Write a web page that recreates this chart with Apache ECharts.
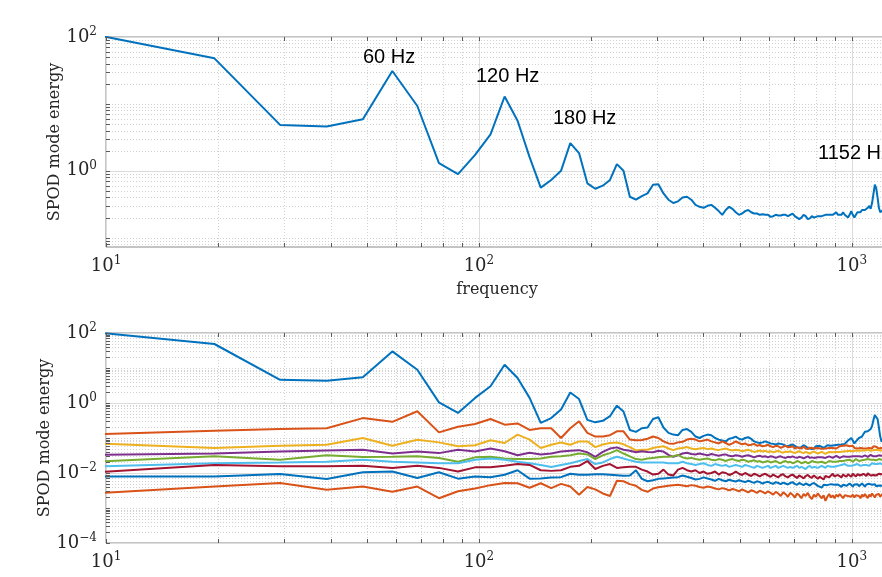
<!DOCTYPE html>
<html>
<head>
<meta charset="utf-8">
<script src="https://cdn.jsdelivr.net/npm/echarts@6/dist/echarts.min.js"></script>
<style>
    html, body { margin: 0; padding: 0; background: #fff; }
    #chart { width: 882px; height: 577px; }
</style>
</head>
<body>
<div id="chart"></div>
<script>
// frequency bins (Hz), df = 9.765625
const frequency = [
    9.77, 19.53, 29.30, 39.06, 48.83, 58.59, 68.36, 78.13, 87.89, 97.66,
    107.42, 117.19, 126.95, 136.72, 146.48, 156.25, 166.02, 175.78, 185.55, 195.31,
    205.08, 214.84, 224.61, 234.38, 244.14, 253.91, 263.67, 273.44, 283.20, 292.97,
    302.73, 312.50, 322.27, 332.03, 341.80, 351.56, 361.33, 371.09, 380.86, 390.63,
    400.39, 410.16, 419.92, 429.69, 439.45, 449.22, 458.98, 468.75, 478.52, 488.28,
    498.05, 507.81, 517.58, 527.34, 537.11, 546.88, 556.64, 566.41, 576.17, 585.94,
    595.70, 605.47, 615.23, 625.00, 634.77, 644.53, 654.30, 664.06, 673.83, 683.59,
    693.36, 703.13, 712.89, 722.66, 732.42, 742.19, 751.95, 761.72, 771.48, 781.25,
    791.02, 800.78, 810.55, 820.31, 830.08, 839.84, 849.61, 859.38, 869.14, 878.91,
    888.67, 898.44, 908.20, 917.97, 927.73, 937.50, 947.27, 957.03, 966.80, 976.56,
    986.33, 996.09, 1005.86, 1015.63, 1025.39, 1035.16, 1044.92, 1054.69, 1064.45, 1074.22,
    1083.98, 1093.75, 1103.52, 1113.28, 1123.05, 1132.81, 1142.58, 1152.34, 1162.11, 1171.88,
    1181.64, 1191.41, 1201.17, 1210.94, 1220.70
];

// top panel: leading mode only
const topMode1 = [
    103, 48, 4.86, 4.58, 5.9, 31, 9.3, 1.3, 0.89, 1.73,
    3.5, 12.9, 5.6, 1.6, 0.56, 0.73, 1.0, 2.6, 1.84, 0.65,
    0.54, 0.6, 0.73, 1.26, 1.0, 0.41, 0.37, 0.42, 0.46, 0.62,
    0.63, 0.46, 0.37, 0.33, 0.35, 0.40, 0.41, 0.37, 0.31, 0.29,
    0.28, 0.30, 0.31, 0.28, 0.25, 0.22, 0.26, 0.29, 0.27, 0.24,
    0.22, 0.23, 0.25, 0.26, 0.24, 0.23, 0.23, 0.22, 0.225, 0.22,
    0.22, 0.205, 0.21, 0.22, 0.215, 0.215, 0.22, 0.22, 0.21, 0.22,
    0.23, 0.21, 0.20, 0.19, 0.20, 0.22, 0.21, 0.19, 0.195, 0.21,
    0.20, 0.19, 0.21, 0.22, 0.21, 0.20, 0.22, 0.21, 0.22, 0.21,
    0.22, 0.23, 0.24, 0.22, 0.21, 0.22, 0.24, 0.22, 0.21, 0.20,
    0.22, 0.25, 0.22, 0.20, 0.22, 0.24, 0.25, 0.24, 0.26, 0.27,
    0.26, 0.25, 0.28, 0.30, 0.27, 0.33, 0.45, 0.62, 0.55, 0.40,
    0.28, 0.24, 0.25, 0.26, 0.25
];

// bottom panel: modes 1..9
const mode1 = [
    100, 48.5, 4.6, 4.3, 5.4, 29.8, 8.9, 1.04, 0.52, 1.4,
    3.0, 12.4, 5.2, 1.4, 0.27, 0.37, 0.65, 2.0, 1.3, 0.33,
    0.28, 0.31, 0.42, 0.84, 0.57, 0.17, 0.15, 0.19, 0.20, 0.35,
    0.39, 0.20, 0.14, 0.125, 0.12, 0.17, 0.18, 0.15, 0.11, 0.10,
    0.115, 0.125, 0.12, 0.10, 0.09, 0.085, 0.08, 0.095, 0.10, 0.11,
    0.095, 0.09, 0.10, 0.105, 0.095, 0.08, 0.075, 0.072, 0.075, 0.08,
    0.075, 0.07, 0.068, 0.065, 0.07, 0.068, 0.065, 0.06, 0.058, 0.062,
    0.065, 0.06, 0.055, 0.052, 0.055, 0.062, 0.058, 0.052, 0.05, 0.048,
    0.05, 0.058, 0.065, 0.06, 0.055, 0.052, 0.056, 0.062, 0.065, 0.06,
    0.058, 0.062, 0.068, 0.064, 0.06, 0.065, 0.07, 0.068, 0.075, 0.085,
    0.09, 0.1, 0.085, 0.07, 0.08, 0.09, 0.1, 0.095, 0.11, 0.13,
    0.15, 0.14, 0.155, 0.17, 0.18, 0.22, 0.33, 0.45, 0.42, 0.35,
    0.2, 0.11, 0.08, 0.09, 0.085
];
const mode2 = [
    0.13, 0.16, 0.18, 0.19, 0.37, 0.29, 0.58, 0.145, 0.21, 0.25,
    0.35, 0.24, 0.26, 0.17, 0.19, 0.19, 0.10, 0.19, 0.30, 0.14,
    0.11, 0.11, 0.12, 0.155, 0.155, 0.09, 0.086, 0.088, 0.095, 0.11,
    0.10, 0.08, 0.07, 0.068, 0.075, 0.078, 0.09, 0.095, 0.09, 0.08,
    0.085, 0.09, 0.08, 0.075, 0.07, 0.08, 0.072, 0.064, 0.07, 0.08,
    0.072, 0.066, 0.07, 0.062, 0.064, 0.068, 0.06, 0.063, 0.058, 0.06,
    0.064, 0.058, 0.055, 0.06, 0.058, 0.052, 0.056, 0.06, 0.054, 0.055,
    0.058, 0.05, 0.054, 0.052, 0.05, 0.056, 0.05, 0.048, 0.053, 0.052,
    0.05, 0.046, 0.052, 0.048, 0.049, 0.053, 0.05, 0.047, 0.052, 0.055,
    0.052, 0.056, 0.05, 0.054, 0.058, 0.055, 0.06, 0.057, 0.062, 0.063,
    0.058, 0.055, 0.06, 0.052, 0.055, 0.05, 0.048, 0.052, 0.046, 0.05,
    0.054, 0.05, 0.056, 0.052, 0.055, 0.05, 0.058, 0.052, 0.056, 0.052,
    0.05, 0.055, 0.052, 0.054, 0.05
];
const mode3 = [
    0.069, 0.052, 0.060, 0.064, 0.10, 0.060, 0.089, 0.075, 0.058, 0.062,
    0.086, 0.072, 0.125, 0.09, 0.052, 0.064, 0.074, 0.064, 0.08, 0.08,
    0.055, 0.065, 0.072, 0.074, 0.066, 0.055, 0.044, 0.046, 0.046, 0.052,
    0.055, 0.058, 0.05, 0.045, 0.05, 0.052, 0.055, 0.05, 0.048, 0.05,
    0.052, 0.048, 0.05, 0.047, 0.045, 0.048, 0.05, 0.046, 0.044, 0.046,
    0.045, 0.042, 0.044, 0.046, 0.043, 0.04, 0.042, 0.044, 0.041, 0.043,
    0.04, 0.042, 0.039, 0.041, 0.043, 0.04, 0.038, 0.041, 0.04, 0.042,
    0.039, 0.037, 0.04, 0.042, 0.039, 0.037, 0.04, 0.038, 0.036, 0.039,
    0.041, 0.038, 0.036, 0.039, 0.04, 0.037, 0.035, 0.038, 0.04, 0.042,
    0.039, 0.037, 0.04, 0.043, 0.04, 0.038, 0.041, 0.044, 0.042, 0.04,
    0.043, 0.045, 0.042, 0.04, 0.044, 0.046, 0.043, 0.041, 0.044, 0.047,
    0.044, 0.042, 0.046, 0.044, 0.043, 0.047, 0.045, 0.048, 0.046, 0.044,
    0.045, 0.047, 0.044, 0.046, 0.045
];
const mode4 = [
    0.033, 0.036, 0.041, 0.044, 0.046, 0.036, 0.041, 0.037, 0.046, 0.041,
    0.05, 0.042, 0.032, 0.038, 0.034, 0.036, 0.041, 0.043, 0.045, 0.039,
    0.029, 0.04, 0.05, 0.054, 0.046, 0.043, 0.039, 0.042, 0.04, 0.039,
    0.043, 0.041, 0.033, 0.029, 0.032, 0.036, 0.038, 0.035, 0.034, 0.036,
    0.034, 0.032, 0.035, 0.033, 0.031, 0.033, 0.034, 0.031, 0.03, 0.032,
    0.031, 0.029, 0.031, 0.032, 0.03, 0.028, 0.03, 0.031, 0.029, 0.03,
    0.028, 0.03, 0.029, 0.027, 0.029, 0.03, 0.028, 0.027, 0.029, 0.028,
    0.03, 0.028, 0.027, 0.029, 0.028, 0.026, 0.028, 0.03, 0.027, 0.028,
    0.027, 0.029, 0.028, 0.026, 0.028, 0.029, 0.027, 0.028, 0.03, 0.028,
    0.027, 0.029, 0.031, 0.028, 0.027, 0.029, 0.03, 0.028, 0.029, 0.031,
    0.029, 0.028, 0.03, 0.032, 0.03, 0.028, 0.03, 0.031, 0.029, 0.03,
    0.032, 0.03, 0.029, 0.031, 0.033, 0.031, 0.03, 0.032, 0.03, 0.031,
    0.032, 0.03, 0.031, 0.033, 0.031
];
const mode5 = [
    0.0215, 0.030, 0.024, 0.032, 0.0286, 0.029, 0.030, 0.027, 0.021, 0.028,
    0.029, 0.026, 0.025, 0.025, 0.026, 0.029, 0.03, 0.032, 0.036, 0.034,
    0.025, 0.032, 0.037, 0.045, 0.036, 0.03, 0.025, 0.024, 0.026, 0.027,
    0.028, 0.029, 0.029, 0.03, 0.033, 0.028, 0.026, 0.027, 0.025, 0.024,
    0.025, 0.026, 0.024, 0.023, 0.025, 0.024, 0.022, 0.024, 0.025, 0.023,
    0.022, 0.024, 0.023, 0.021, 0.022, 0.023, 0.021, 0.022, 0.02, 0.021,
    0.022, 0.02, 0.021, 0.022, 0.02, 0.019, 0.021, 0.022, 0.02, 0.021,
    0.019, 0.02, 0.022, 0.021, 0.019, 0.02, 0.021, 0.019, 0.02, 0.022,
    0.021, 0.019, 0.02, 0.022, 0.021, 0.02, 0.019, 0.021, 0.022, 0.02,
    0.021, 0.023, 0.021, 0.02, 0.022, 0.024, 0.022, 0.021, 0.023, 0.022,
    0.024, 0.022, 0.021, 0.023, 0.025, 0.023, 0.022, 0.024, 0.023, 0.025,
    0.024, 0.022, 0.025, 0.023, 0.024, 0.026, 0.024, 0.025, 0.023, 0.024,
    0.025, 0.023, 0.024, 0.026, 0.024
];
const mode6 = [
    0.0155, 0.019, 0.020, 0.021, 0.024, 0.021, 0.020, 0.019, 0.019, 0.024,
    0.026, 0.024, 0.021, 0.019, 0.017, 0.0148, 0.017, 0.019, 0.022, 0.025,
    0.018, 0.02, 0.025, 0.029, 0.026, 0.023, 0.021, 0.02, 0.02, 0.02,
    0.02, 0.02, 0.019, 0.019, 0.019, 0.021, 0.019, 0.018, 0.017, 0.018,
    0.019, 0.017, 0.016, 0.018, 0.017, 0.016, 0.017, 0.015, 0.016, 0.017,
    0.016, 0.015, 0.017, 0.016, 0.015, 0.014, 0.016, 0.015, 0.014, 0.015,
    0.016, 0.014, 0.015, 0.016, 0.014, 0.015, 0.016, 0.015, 0.014, 0.015,
    0.014, 0.015, 0.016, 0.014, 0.015, 0.014, 0.013, 0.015, 0.016, 0.014,
    0.015, 0.016, 0.014, 0.015, 0.016, 0.015, 0.014, 0.016, 0.017, 0.015,
    0.016, 0.015, 0.017, 0.016, 0.015, 0.017, 0.016, 0.018, 0.017, 0.016,
    0.017, 0.016, 0.018, 0.017, 0.016, 0.018, 0.017, 0.016, 0.018, 0.017,
    0.019, 0.017, 0.018, 0.016, 0.018, 0.019, 0.017, 0.018, 0.02, 0.018,
    0.017, 0.019, 0.018, 0.017, 0.018
];
const mode7 = [
    0.0107, 0.017, 0.0155, 0.0155, 0.016, 0.0139, 0.016, 0.014, 0.011, 0.0145,
    0.0145, 0.016, 0.018, 0.017, 0.012, 0.0115, 0.012, 0.015, 0.016, 0.022,
    0.013, 0.016, 0.018, 0.014, 0.0145, 0.015, 0.015, 0.0125, 0.011, 0.009,
    0.0095, 0.0125, 0.009, 0.0085, 0.0125, 0.014, 0.012, 0.011, 0.012, 0.01,
    0.011, 0.0095, 0.01, 0.011, 0.009, 0.0105, 0.01, 0.0088, 0.0095, 0.011,
    0.0095, 0.0088, 0.01, 0.009, 0.0082, 0.0095, 0.0088, 0.008, 0.009, 0.0095,
    0.0085, 0.0078, 0.009, 0.0082, 0.0075, 0.0088, 0.0092, 0.008, 0.0075, 0.0085,
    0.009, 0.008, 0.0072, 0.0085, 0.0078, 0.007, 0.0082, 0.0088, 0.0078, 0.0072,
    0.0085, 0.008, 0.0068, 0.0078, 0.0088, 0.0065, 0.0082, 0.009, 0.0075, 0.0085,
    0.0095, 0.008, 0.0072, 0.0088, 0.0082, 0.0075, 0.009, 0.0085, 0.0078, 0.0092,
    0.0085, 0.0078, 0.0095, 0.0088, 0.008, 0.0092, 0.0098, 0.0085, 0.009, 0.0095,
    0.0088, 0.0082, 0.0098, 0.009, 0.0085, 0.0095, 0.0088, 0.0092, 0.0085, 0.009,
    0.0095, 0.0088, 0.0092, 0.0085, 0.009
];
const mode8 = [
    0.008, 0.008, 0.0094, 0.0067, 0.0105, 0.011, 0.0072, 0.0105, 0.0069, 0.008,
    0.0076, 0.0089, 0.012, 0.0069, 0.007, 0.0074, 0.0076, 0.0095, 0.0089, 0.0089,
    0.0092, 0.0092, 0.0089, 0.0086, 0.0083, 0.0085, 0.012, 0.0068, 0.0058, 0.0062,
    0.0068, 0.007, 0.0072, 0.0074, 0.0076, 0.0085, 0.0078, 0.0072, 0.0065, 0.0068,
    0.0075, 0.007, 0.0065, 0.006, 0.0068, 0.0062, 0.0058, 0.0064, 0.006, 0.0057,
    0.0062, 0.0058, 0.0055, 0.006, 0.0056, 0.0052, 0.0058, 0.0055, 0.005, 0.0054,
    0.0056, 0.0052, 0.0049, 0.0055, 0.0052, 0.0048, 0.0053, 0.005, 0.0047, 0.0052,
    0.0055, 0.0049, 0.0046, 0.0052, 0.0048, 0.0045, 0.005, 0.0047, 0.0044, 0.0049,
    0.0052, 0.0046, 0.0043, 0.0048, 0.0038, 0.0046, 0.005, 0.0045, 0.0042, 0.0048,
    0.0051, 0.0046, 0.0042, 0.0047, 0.0044, 0.004, 0.0046, 0.0049, 0.0043, 0.0047,
    0.005, 0.0045, 0.0041, 0.0047, 0.0044, 0.0048, 0.0042, 0.0046, 0.005, 0.0044,
    0.0041, 0.0047, 0.0045, 0.0049, 0.0043, 0.0046, 0.0044, 0.0048, 0.0042, 0.0046,
    0.0044, 0.0047, 0.0043, 0.0045, 0.0046
];
const mode9 = [
    0.0027, 0.0041, 0.0052, 0.0033, 0.0041, 0.0029, 0.0041, 0.0019, 0.0030, 0.0036,
    0.0045, 0.0052, 0.0051, 0.0038, 0.0051, 0.0037, 0.0049, 0.0041, 0.0024, 0.004,
    0.0034, 0.0026, 0.0022, 0.006, 0.0058, 0.0048, 0.0043, 0.0033, 0.0029, 0.0036,
    0.0039, 0.0041, 0.0043, 0.0045, 0.0046, 0.0044, 0.0042, 0.0045, 0.0043, 0.004,
    0.0038, 0.0041, 0.0039, 0.0036, 0.0034, 0.0037, 0.0035, 0.0032, 0.0035, 0.0033,
    0.003, 0.0034, 0.0031, 0.0028, 0.0032, 0.003, 0.0027, 0.0031, 0.0029, 0.0026,
    0.003, 0.0027, 0.0024, 0.0029, 0.0026, 0.0022, 0.0028, 0.0025, 0.0021, 0.0027,
    0.0024, 0.002, 0.0026, 0.0023, 0.0019, 0.0025, 0.0022, 0.0027, 0.0021, 0.0018,
    0.0024, 0.0021, 0.0026, 0.0022, 0.0019, 0.0023, 0.0016, 0.0021, 0.0025, 0.002,
    0.0023, 0.0019, 0.0024, 0.0021, 0.0025, 0.0022, 0.0019, 0.0023, 0.0026, 0.0022,
    0.0025, 0.0021, 0.0024, 0.002, 0.0023, 0.0026, 0.0022, 0.0019, 0.0024, 0.0021,
    0.0025, 0.0022, 0.0019, 0.0024, 0.0021, 0.0026, 0.0023, 0.002, 0.0024, 0.0022,
    0.0025, 0.0021, 0.0023, 0.0026, 0.0022
];

const bottomModes = [mode1, mode2, mode3, mode4, mode5, mode6, mode7, mode8, mode9];
const peakLabels = ["60 Hz", "120 Hz", "180 Hz", "1152 Hz"];

// axis limits
const xRange = [10, 1250];
const yRangeTop = [0.0727, 100];
const yRangeBottom = [1e-4, 100];

// ---- layout / style ----
const modeColors = ["#0072bd", "#d95319", "#edb120", "#7e2f8e", "#77ac30", "#4dbeee", "#a2142f", "#0072bd", "#d95319"];
const plotLeft = 106;
const plotWidth = 782;
const panels = [
    { top: 37, height: 210, yRange: yRangeTop, labelStep: 2, nameGap: 43 },
    { top: 333, height: 210, yRange: yRangeBottom, labelStep: 2, nameGap: 53 }
];
const peakLabelPos = [[363, 57], [476, 76], [553, 118], [818, 153]];
const serifFont = "DejaVu Serif";
const textColor = "#262626";

function powLabel(step) {
    return value => {
        const e = Math.log10(value);
        const r = Math.round(e);
        if (Math.abs(e - r) > 1e-6 || r % step !== 0) {
            return "";
        }
        const exp = r < 0 ? "\u2212" + Math.abs(r) : String(r);
        return `{b|10}{s|${exp}}`;
    };
}

const labelRich = {
    b: { fontFamily: serifFont, fontSize: 18, color: textColor },
    s: { fontFamily: serifFont, fontSize: 12, color: textColor, padding: [0, 0, 10, 0] }
};

function toPairs(values) {
    return frequency.map((f, i) => [f, values[i]]);
}

function lineSeries(values, color, axisIndex) {
    return {
        type: "line",
        xAxisIndex: axisIndex,
        yAxisIndex: axisIndex,
        data: toPairs(values),
        showSymbol: false,
        symbol: "none",
        clip: true,
        lineStyle: { width: 2, color },
        itemStyle: { color },
        z: 3
    };
}

const option = {
    animation: false,
    backgroundColor: "#fff",
    grid: panels.map(p => ({
        left: plotLeft,
        top: p.top,
        width: plotWidth,
        height: p.height,
        containLabel: false,
        outerBoundsMode: "none",
        show: true,
        backgroundColor: "#fff",
        borderColor: "#8a8a8a",
        borderWidth: 1
    })),
    xAxis: panels.map((p, i) => ({
        type: "log",
        logBase: 10,
        gridIndex: i,
        min: xRange[0],
        max: xRange[1],
        name: "frequency",
        nameLocation: "middle",
        nameGap: 35,
        nameMoveOverlap: false,
        nameTextStyle: { fontFamily: serifFont, fontSize: 16, color: textColor },
        axisLine: { show: false },
        axisTick: { show: false },
        splitLine: { show: false },
        axisLabel: { margin: 8, formatter: powLabel(1), rich: labelRich }
    })),
    yAxis: panels.map((p, i) => ({
        type: "log",
        logBase: 10,
        gridIndex: i,
        min: p.yRange[0],
        max: p.yRange[1],
        name: "SPOD mode energy",
        nameLocation: "middle",
        nameGap: p.nameGap,
        nameMoveOverlap: false,
        nameTextStyle: { fontFamily: serifFont, fontSize: 16, color: textColor },
        axisLine: { show: false },
        axisTick: { show: false },
        splitLine: { show: false },
        axisLabel: { margin: 9, formatter: powLabel(p.labelStep), rich: labelRich }
    })),
    series: [lineSeries(topMode1, modeColors[0], 0)].concat(
        bottomModes.map((values, i) => lineSeries(values, modeColors[i], 1))
    )
};

const chart = echarts.init(document.getElementById("chart"), null, { renderer: "canvas" });
chart.setOption(option);

// log-axis grid lines and inward ticks (majors on labelled decades)
function decadeTicks(lo, hi) {
    const ticks = [];
    for (let e = Math.floor(Math.log10(lo)); e <= Math.ceil(Math.log10(hi)); e++) {
        for (let m = 1; m <= 9; m++) {
            const v = m * Math.pow(10, e);
            if (v >= lo * 0.9999 && v <= hi * 1.0001) {
                ticks.push({ value: v, decade: m === 1, exp: e });
            }
        }
    }
    return ticks;
}

function buildGraphic() {
    const items = [];
    const majorLine = { stroke: "#dcdcdc", lineWidth: 1 };
    const minorLine = { stroke: "#d2d2d2", lineWidth: 1, lineDash: [1, 2] };
    const tickStyle = { stroke: "#5a5a5a", lineWidth: 1 };
    const tickLen = 4;

    panels.forEach((p, i) => {
        const top = p.top;
        const bottom = p.top + p.height;

        decadeTicks(xRange[0], xRange[1]).forEach(t => {
            const x = Math.round(chart.convertToPixel({ xAxisIndex: i }, t.value)) + 0.5;
            const style = t.decade ? majorLine : minorLine;
            items.push({ type: "line", silent: true, z: 1, shape: { x1: x, y1: top, x2: x, y2: bottom }, style });
            items.push({ type: "line", silent: true, z: 5, shape: { x1: x, y1: bottom, x2: x, y2: bottom - tickLen }, style: tickStyle });
            items.push({ type: "line", silent: true, z: 5, shape: { x1: x, y1: top, x2: x, y2: top + tickLen }, style: tickStyle });
        });

        decadeTicks(p.yRange[0], p.yRange[1]).forEach(t => {
            const y = Math.round(chart.convertToPixel({ yAxisIndex: i }, t.value)) + 0.5;
            const major = t.decade && t.exp % p.labelStep === 0;
            const style = major ? majorLine : minorLine;
            items.push({ type: "line", silent: true, z: 1, shape: { x1: plotLeft, y1: y, x2: plotLeft + plotWidth, y2: y }, style });
            items.push({ type: "line", silent: true, z: 5, shape: { x1: plotLeft, y1: y, x2: plotLeft + tickLen, y2: y }, style: tickStyle });
        });
    });

    peakLabels.forEach((text, i) => {
        items.push({
            type: "text",
            silent: true,
            z: 6,
            x: peakLabelPos[i][0],
            y: peakLabelPos[i][1],
            style: {
                text,
                font: '20px "Liberation Sans", Arial, sans-serif',
                fill: "#000",
                align: "left",
                verticalAlign: "middle"
            }
        });
    });

    return items;
}

chart.setOption({ graphic: buildGraphic() });
</script>
</body>
</html>
